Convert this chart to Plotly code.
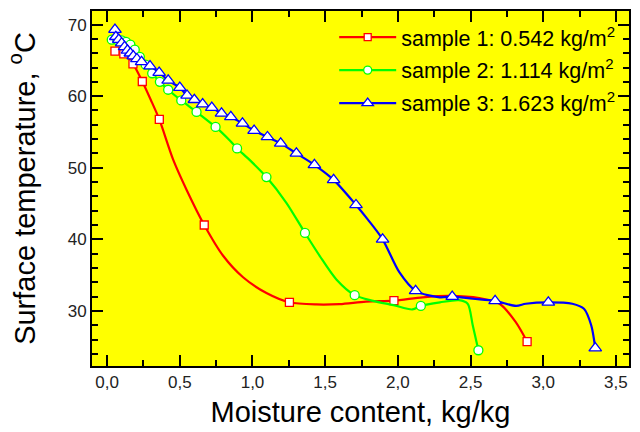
import plotly.graph_objects as go

# ---- data ----
red_line_x = [0.054, 0.115, 0.178, 0.242, 0.30, 0.359, 0.455, 0.547, 0.668, 0.798, 0.935, 1.096, 1.254,
              1.44, 1.60, 1.78, 1.973, 2.17, 2.355, 2.56, 2.70, 2.81, 2.889]
red_line_y = [66.3, 65.9, 64.5, 62.05, 59.5, 56.75, 51.1, 46.9, 42.0, 37.7, 34.7, 32.5, 31.2,
              30.9, 30.95, 31.3, 31.44, 31.9, 32.1, 31.8, 31.0, 28.45, 25.7]
red_mark_x = [0.054, 0.115, 0.178, 0.242, 0.359, 0.668, 1.254, 1.973, 2.889]
red_mark_y = [66.3, 65.9, 64.5, 62.05, 56.75, 42.0, 31.2, 31.44, 25.7]

green_line_x = [0.032, 0.07, 0.10, 0.13, 0.16, 0.19, 0.225, 0.265, 0.31, 0.363, 0.42, 0.51, 0.615, 0.746,
                0.844, 0.894, 0.98, 1.096, 1.233, 1.361, 1.462, 1.577, 1.703, 1.83, 1.97, 2.10,
                2.158, 2.29, 2.42, 2.48, 2.515, 2.554]
green_line_y = [67.9, 67.85, 67.8, 67.6, 67.2, 66.5, 65.5, 64.4, 63.2, 62.0, 60.9, 59.4, 57.8, 55.7,
                53.8, 52.7, 51.1, 48.7, 45.1, 40.9, 37.7, 34.4, 32.2, 31.4, 30.8, 30.2,
                30.7, 31.2, 31.5, 31.0, 28.0, 24.5]
green_mark_x = [0.032, 0.07, 0.10, 0.13, 0.16, 0.19, 0.225, 0.265, 0.31, 0.363, 0.42, 0.51, 0.615, 0.746,
                0.894, 1.096, 1.361, 1.703, 2.158, 2.554]
green_mark_y = [67.9, 67.85, 67.8, 67.6, 67.2, 66.5, 65.5, 64.4, 63.2, 62.0, 60.9, 59.4, 57.8, 55.7,
                52.7, 48.7, 40.9, 32.2, 30.7, 24.5]

blue_line_x = [0.054, 0.06, 0.08, 0.10, 0.12, 0.14, 0.16, 0.18, 0.205, 0.237, 0.295, 0.358, 0.42, 0.50,
               0.55, 0.60, 0.657, 0.72, 0.787, 0.851, 0.931, 1.011, 1.103, 1.194, 1.302, 1.426,
               1.558, 1.712, 1.794, 1.895, 2.01, 2.122, 2.287, 2.374, 2.515, 2.669, 2.813, 2.88,
               3.035, 3.20, 3.28, 3.33, 3.358]
blue_line_y = [69.3, 68.3, 67.9, 67.4, 66.9, 66.4, 66.0, 65.6, 65.2, 64.8, 64.2, 63.3, 62.2, 61.2,
               60.1, 59.5, 58.9, 58.4, 57.6, 57.1, 56.2, 55.2, 54.3, 53.4, 52.0, 50.4,
               48.3, 44.8, 42.75, 40.0, 35.4, 32.8, 31.9, 32.0, 31.7, 31.4, 30.7, 31.0,
               31.2, 31.0, 30.3, 28.0, 24.8]
blue_mark_x = [0.054, 0.06, 0.08, 0.10, 0.12, 0.14, 0.16, 0.18, 0.205, 0.237, 0.295, 0.358, 0.42, 0.50,
               0.55, 0.60, 0.657, 0.72, 0.787, 0.851, 0.931, 1.011, 1.103, 1.194, 1.302, 1.426,
               1.558, 1.712, 1.895, 2.122, 2.374, 2.669, 3.035, 3.358]
blue_mark_y = [69.3, 68.3, 67.9, 67.4, 66.9, 66.4, 66.0, 65.6, 65.2, 64.8, 64.2, 63.3, 62.2, 61.2,
               60.1, 59.5, 58.9, 58.4, 57.6, 57.1, 56.2, 55.2, 54.3, 53.4, 52.0, 50.4,
               48.3, 44.8, 40.0, 32.8, 32.0, 31.4, 31.2, 24.8]

names = ["sample 1: 0.542 kg/m<sup>2</sup>",
         "sample 2: 1.114 kg/m<sup>2</sup>",
         "sample 3: 1.623 kg/m<sup>2</sup>"]

FONT = "Arial, 'Liberation Sans', sans-serif"

series = [
    (red_line_x, red_line_y, red_mark_x, red_mark_y, "#FF0000", "square", 8),
    (green_line_x, green_line_y, green_mark_x, green_mark_y, "#00FF00", "circle", 9),
    (blue_line_x, blue_line_y, blue_mark_x, blue_mark_y, "#0000FF", "triangle-up", 11),
]

fig = go.Figure()
for i, (lx, ly, mx, my, col, sym, sz) in enumerate(series):
    fig.add_trace(go.Scatter(x=lx, y=ly, mode="lines", line=dict(color=col, width=2.2, shape="spline", smoothing=0.8),
                             showlegend=False, hoverinfo="skip"))
    fig.add_trace(go.Scatter(x=mx, y=my, mode="markers",
                             marker=dict(symbol=sym, size=sz, color="white", line=dict(color=col, width=1.3)),
                             showlegend=False))
    fig.add_trace(go.Scatter(x=[None], y=[None], mode="lines+markers", name=names[i], legendgroup=f"g{i}",
                             line=dict(color=col, width=2.2),
                             marker=dict(symbol=sym, size=sz - 1, color="white", line=dict(color=col, width=1.3))))

axis_common = dict(
    ticks="inside", tickwidth=2, ticklen=11, tickcolor="black",
    showline=True, linewidth=2, linecolor="black", mirror="allticks",
    showgrid=False, zeroline=False,
    tickfont=dict(family=FONT, size=17, color="#222222"),
)

fig.update_layout(
    width=640, height=432,
    margin=dict(l=92, r=11, t=9, b=65),
    paper_bgcolor="white", plot_bgcolor="#FFFF00",
    separators=",.",
    font=dict(family=FONT, color="black"),
    xaxis=dict(range=[-0.104, 3.59], tick0=0, dtick=0.5, tickformat=".1f",
               minor=dict(dtick=0.25, ticks="inside", ticklen=6, tickwidth=2, tickcolor="black"),
               title=dict(text="Moisture content, kg/kg", font=dict(family=FONT, size=29), standoff=10),
               **axis_common),
    yaxis=dict(range=[22.3, 71.9], tick0=0, dtick=10,
               minor=dict(dtick=2, ticks="inside", ticklen=6, tickwidth=2, tickcolor="black"),
               title=dict(text="Surface temperature, <sup>o</sup>C", font=dict(family=FONT, size=29), standoff=24),
               **axis_common),
    legend=dict(x=0.451, y=0.984, xanchor="left", yanchor="top", bgcolor="rgba(0,0,0,0)",
                font=dict(family=FONT, size=21.5, color="black"), itemwidth=57,
                tracegroupgap=2, traceorder="grouped"),
)

fig.write_html("out.html")
